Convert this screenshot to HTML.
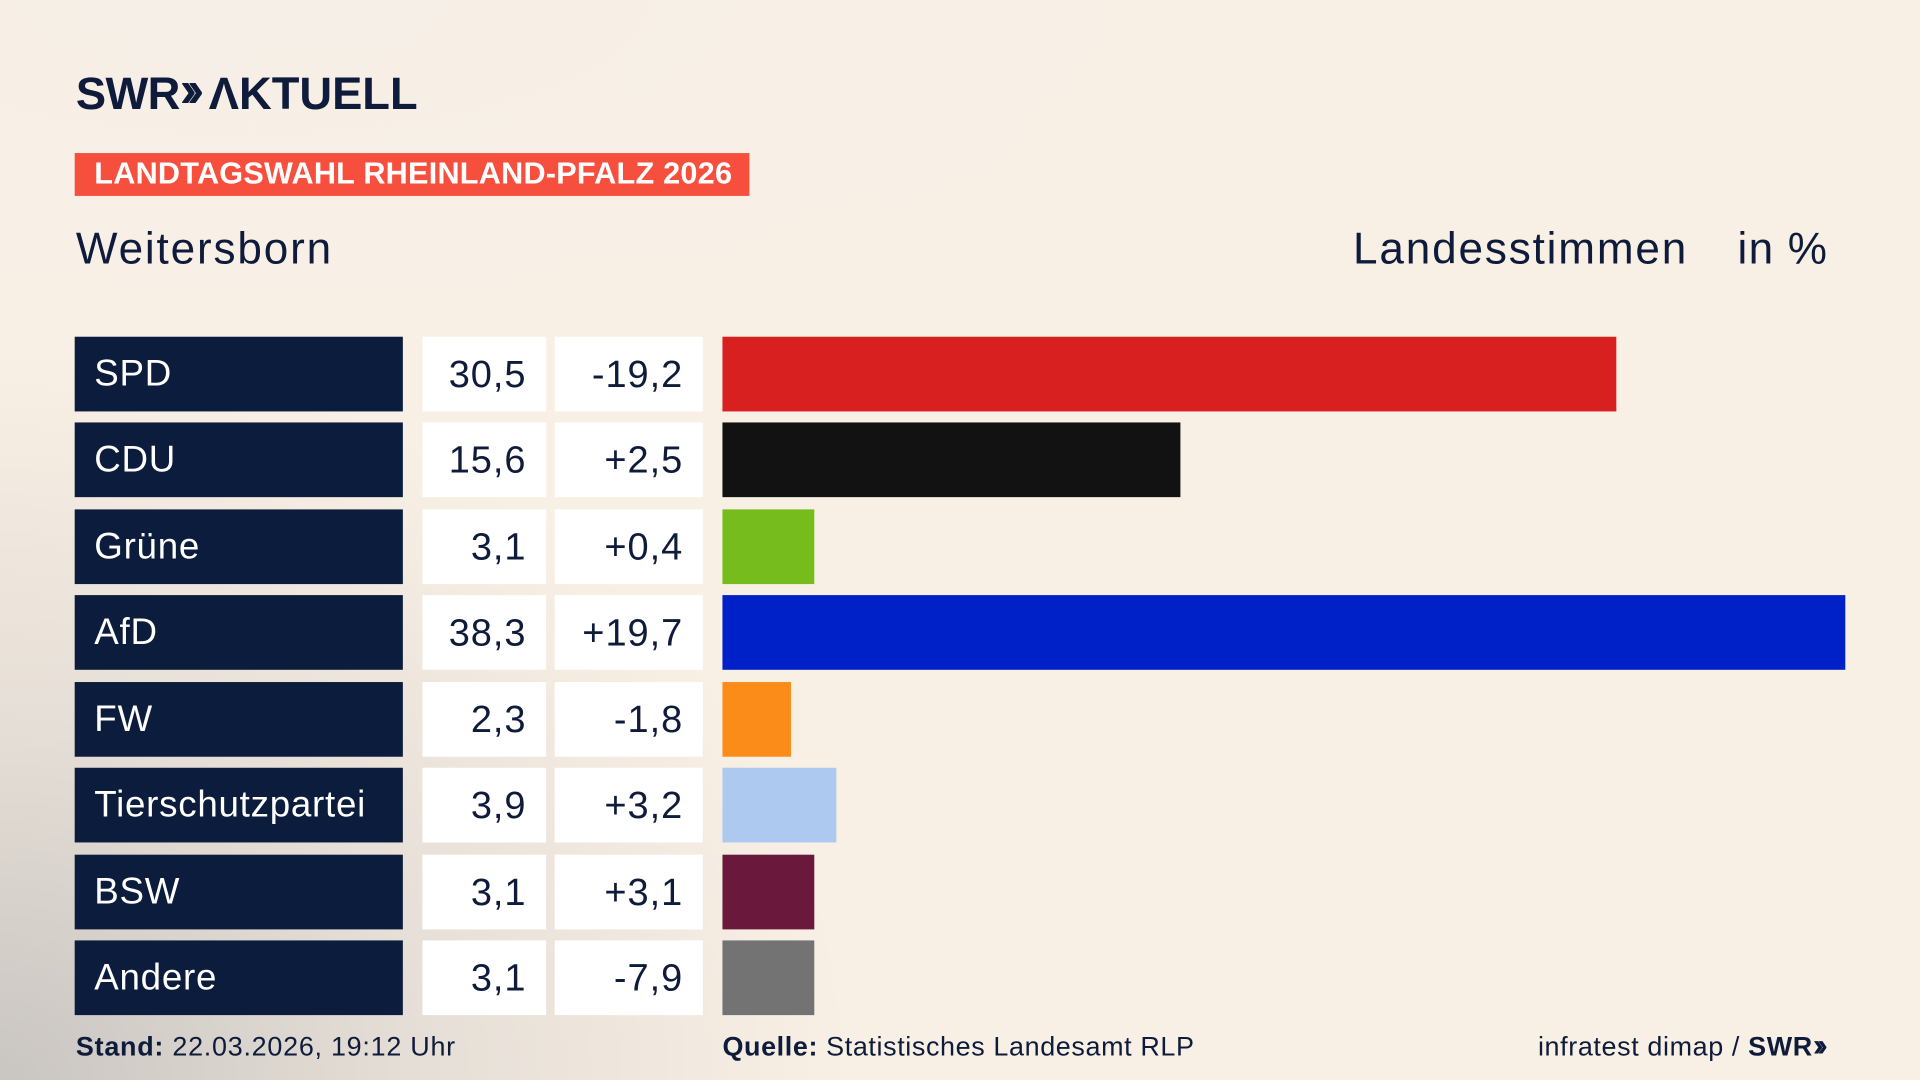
<!DOCTYPE html>
<html><head><meta charset="utf-8"><style>
html,body{margin:0;padding:0;width:1920px;height:1080px;overflow:hidden}
#wrap{width:1568px;height:882px;transform:scale(1.22449);transform-origin:0 0;position:relative;
background:radial-gradient(ellipse 700px 600px at 0px 882px,#c9c5c1 0%,#e6dfd7 50%,rgba(248,240,230,0) 100%),
radial-gradient(ellipse 900px 300px at 200px 0px,#f6efe7 0%,rgba(248,240,230,0) 100%),#f9f0e5;
font-family:"Liberation Sans",sans-serif;color:#0e1b3a}
.a{position:absolute;white-space:nowrap}
.lab{position:absolute;left:61px;width:268px;height:61px;background:#0c1c3c;color:#fff;font-size:30px;line-height:61px;padding-left:16px;box-sizing:border-box;letter-spacing:0.6px}
.v{position:absolute;left:345px;width:101px;height:61px;background:#fff;font-size:31px;line-height:61px;text-align:right;padding-right:16px;box-sizing:border-box;letter-spacing:0.8px}
.d{position:absolute;left:453px;width:121px;height:61px;background:#fff;font-size:31px;line-height:61px;text-align:right;padding-right:16px;box-sizing:border-box;letter-spacing:0.8px}
.b{position:absolute;left:590px;height:61px}
</style></head><body><div id="wrap">
<div class="a" style="left:62px;top:51px;font-size:37px;font-weight:bold;letter-spacing:-0.5px">SWR<span style="font-size:42px;letter-spacing:-8px;position:relative;top:-2px">›› </span><span style="margin-left:8px;letter-spacing:0px">ΛKTUELL</span></div>
<div class="a" style="left:61px;top:125px;width:551px;height:35px;background:#f74f3d;color:#fff;font-weight:bold;font-size:25px;line-height:35px;padding-left:16px;box-sizing:border-box;letter-spacing:0.2px">LANDTAGSWAHL RHEINLAND-PFALZ 2026</div>
<div class="a" style="left:62px;top:182px;font-size:36px;letter-spacing:1.5px">Weitersborn</div>
<div class="a" style="left:1105px;top:182px;font-size:36px;letter-spacing:1.5px">Landesstimmen</div>
<div class="a" style="left:1419px;top:182px;font-size:36px;letter-spacing:1px">in %</div>

<div class="lab" style="top:275px">SPD</div><div class="v" style="top:275px">30,5</div><div class="d" style="top:275px">-19,2</div><div class="b" style="top:275px;width:730px;background:#d82021"></div>
<div class="lab" style="top:345px">CDU</div><div class="v" style="top:345px">15,6</div><div class="d" style="top:345px">+2,5</div><div class="b" style="top:345px;width:374px;background:#121212"></div>
<div class="lab" style="top:416px">Grüne</div><div class="v" style="top:416px">3,1</div><div class="d" style="top:416px">+0,4</div><div class="b" style="top:416px;width:75px;background:#76bc1c"></div>
<div class="lab" style="top:486px">AfD</div><div class="v" style="top:486px">38,3</div><div class="d" style="top:486px">+19,7</div><div class="b" style="top:486px;width:917px;background:#0020c8"></div>
<div class="lab" style="top:557px">FW</div><div class="v" style="top:557px">2,3</div><div class="d" style="top:557px">-1,8</div><div class="b" style="top:557px;width:56px;background:#fb8c19"></div>
<div class="lab" style="top:627px">Tierschutzpartei</div><div class="v" style="top:627px">3,9</div><div class="d" style="top:627px">+3,2</div><div class="b" style="top:627px;width:93px;background:#adc9f0"></div>
<div class="lab" style="top:698px">BSW</div><div class="v" style="top:698px">3,1</div><div class="d" style="top:698px">+3,1</div><div class="b" style="top:698px;width:75px;background:#6a193c"></div>
<div class="lab" style="top:768px">Andere</div><div class="v" style="top:768px">3,1</div><div class="d" style="top:768px">-7,9</div><div class="b" style="top:768px;width:75px;background:#737373"></div>

<div class="a" style="left:62px;top:842px;font-size:22px;letter-spacing:0.6px"><b>Stand:</b> 22.03.2026, 19:12 Uhr</div>
<div class="a" style="left:590px;top:842px;font-size:22px;letter-spacing:0.5px"><b>Quelle:</b> Statistisches Landesamt RLP</div>
<div class="a" style="left:1256px;top:838px;font-size:22px;letter-spacing:0.5px">infratest dimap / <b>SWR<span style="font-size:26px;letter-spacing:-5px">››</span></b></div>
</div></body></html>
